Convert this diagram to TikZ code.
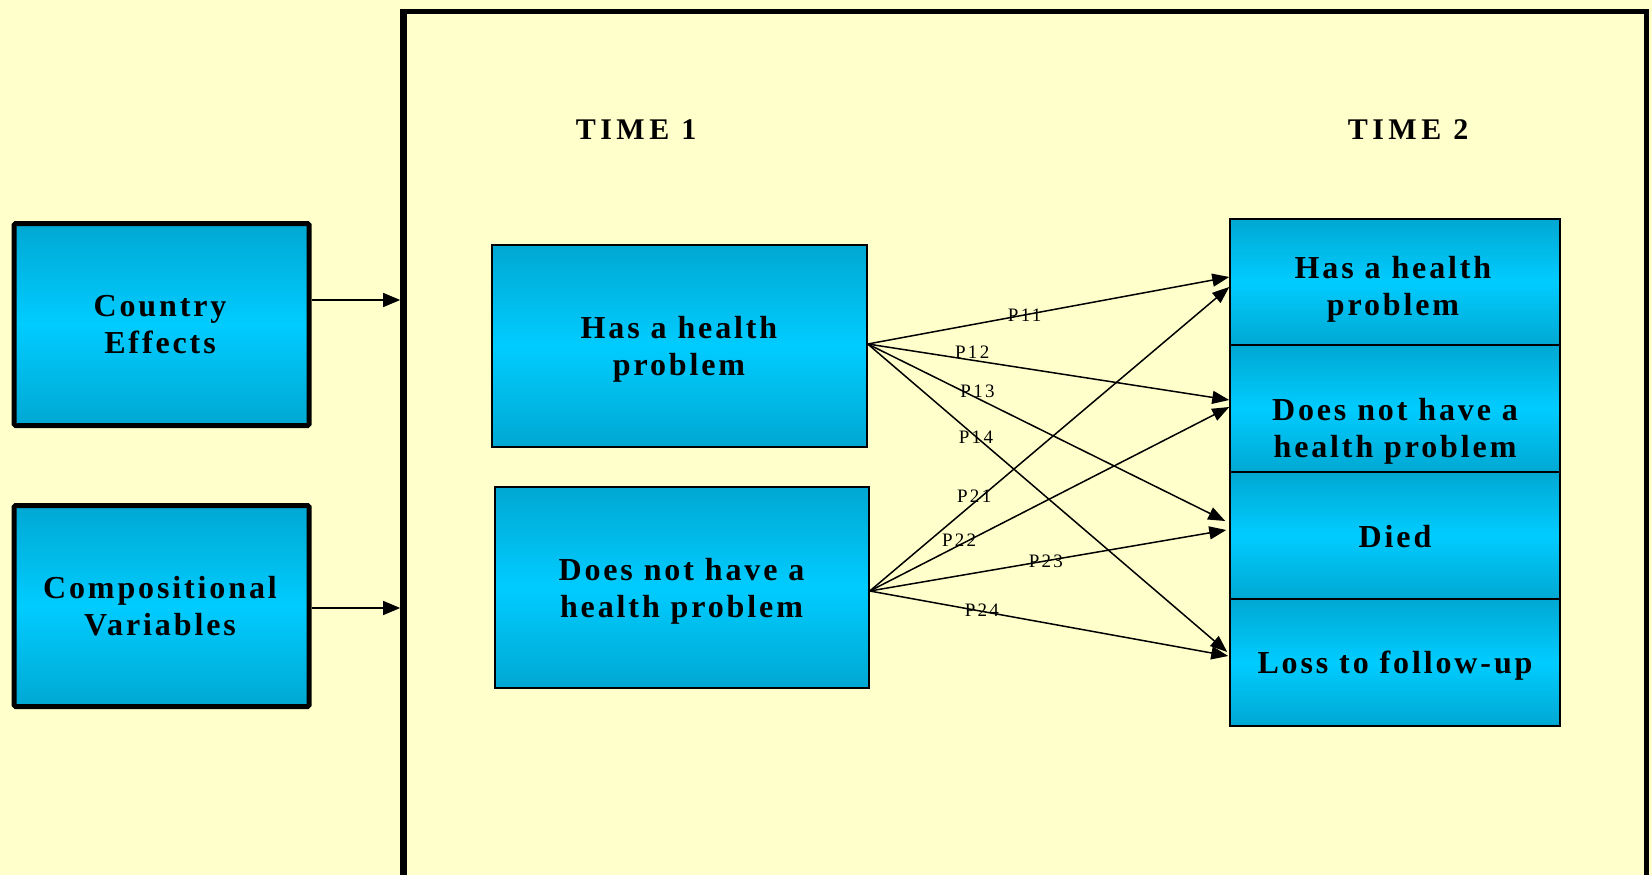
\documentclass[tikz,border=0pt]{standalone}
\usepackage{fontspec}
\setmainfont{Liberation Serif}
\newfontfamily\boxfont{Liberation Serif}[LetterSpace=9]
\newfontfamily\timefont{Liberation Serif}[LetterSpace=15]
\newfontfamily\pfont{Liberation Serif}[LetterSpace=12]
\usetikzlibrary{arrows.meta}
\definecolor{bg}{HTML}{FFFFCC}
\definecolor{boxdark}{HTML}{00A8D2}
\definecolor{boxlight}{HTML}{00CCFF}
\begin{document}
\begin{tikzpicture}[x=1pt,y=-1pt,
  box/.style={draw=black, top color=boxdark, bottom color=boxdark, middle color=boxlight, inner sep=0pt, anchor=center},
  leftbox/.style={box, line width=5pt, rounded corners=1.5pt},
  midbox/.style={box, line width=1.5pt},
  boxtext/.style={font=\boxfont\bfseries\fontsize{32}{37}\selectfont, align=center, inner sep=0pt},
  timetext/.style={font=\timefont\bfseries\fontsize{30}{36}\selectfont, inner sep=0pt},
  plabel/.style={font=\pfont\fontsize{19}{22}\selectfont, inner sep=0pt},
  arr/.style={line width=1.5pt, -{Triangle[length=17pt,width=13pt]}},
  sidearr/.style={line width=1.3pt, -{Triangle[length=17pt,width=14pt]}}
]
\useasboundingbox (0,0) rectangle (1652,875);
\fill[bg] (0,0) rectangle (1652,875);
\clip (0,0) rectangle (1652,875);

% outer frame
\draw[line width=5pt] (403.5,11.7) rectangle (1646.3,877.2);
\draw[line width=6.5pt] (403.5,9.2) -- (403.5,880);
\coordinate (fL) at (400.2,300);

% left boxes
\node[leftbox, minimum width=295pt, minimum height=202pt] (ce) at (161.7,324.5) {};
\node[leftbox, minimum width=295pt, minimum height=201pt] (cv) at (161.7,606) {};
\node[boxtext] (tce) at (160,324.8) {Country\\Effects};
\node[boxtext] (tcv) at (160,606.5) {Compositional\\Variables};

% time labels
\node[timetext] (t1) at (636,130) {TIME 1};
\node[timetext] (t2) at (1408,130) {TIME 2};

% time 1 boxes
\node[midbox, minimum width=375pt, minimum height=202pt] (h1) at (679.5,346) {};
\node[midbox, minimum width=374pt, minimum height=201pt] (d1) at (682,587.5) {};
\node[boxtext] (th1) at (679,349.6) {Has a health\\problem};
\node[boxtext] (td1) at (681.5,591) {Does not have a\\health problem};

% time 2 boxes
\node[midbox, minimum width=330pt, minimum height=126pt] (h2) at (1395,282) {};
\node[midbox, minimum width=330pt, minimum height=127pt] (d2) at (1395,408.5) {};
\node[midbox, minimum width=330pt, minimum height=127pt] (di) at (1395,535.5) {};
\node[midbox, minimum width=330pt, minimum height=127pt] (lo) at (1395,662.5) {};
\node[boxtext] (th2) at (1393,289.6) {Has a health\\problem};
\node[boxtext] (td2) at (1395,431.6) {Does not have a\\health problem};
\node[boxtext] (tdi) at (1395,537) {Died};
\node[boxtext] (tlo) at (1395,666) {Loss to follow-up};

% side arrows into the frame
\draw[sidearr] ([yshift=24.5pt]ce.east) -- ([yshift=24.5pt]ce.east -| fL);
\draw[sidearr] ([yshift=-2pt]cv.east) -- ([yshift=-2pt]cv.east -| fL);

% transition arrows
\coordinate (s1) at ([yshift=2pt]h1.east);
\coordinate (s2) at ([yshift=-3.5pt]d1.east);
\draw[arr] (s1) -- node[plabel, pos=0.434] (p11) {P11} ([yshift=5pt]h2.west);
\draw[arr] (s1) -- node[plabel, pos=0.289, yshift=8pt] (p12) {P12} ([yshift=8.5pt]d2.west);
\draw[arr] (s1) -- node[plabel, pos=0.307, yshift=6.6pt] (p13) {P13} ([xshift=-4pt,yshift=14.5pt]di.west);
\draw[arr] (s1) -- node[plabel, pos=0.301, yshift=-1pt] (p14) {P14} ([xshift=-2pt,yshift=10.5pt]lo.west);
\draw[arr] (s2) -- node[plabel, pos=0.2905, yshift=6.7pt] (p21) {P21} ([yshift=-5pt]h2.west);
\draw[arr] (s2) -- node[plabel, pos=0.2486, yshift=5.3pt] (p22) {P22} ([yshift=1.5pt]d2.west);
\draw[arr] (s2) -- node[plabel, pos=0.494] (p23) {P23} ([xshift=-3pt,yshift=5.5pt]di.west);
\draw[arr] (s2) -- node[plabel, pos=0.3128, yshift=1.6pt] (p24) {P24} ([xshift=-1pt,yshift=6.5pt]lo.west);
\end{tikzpicture}
\end{document}
